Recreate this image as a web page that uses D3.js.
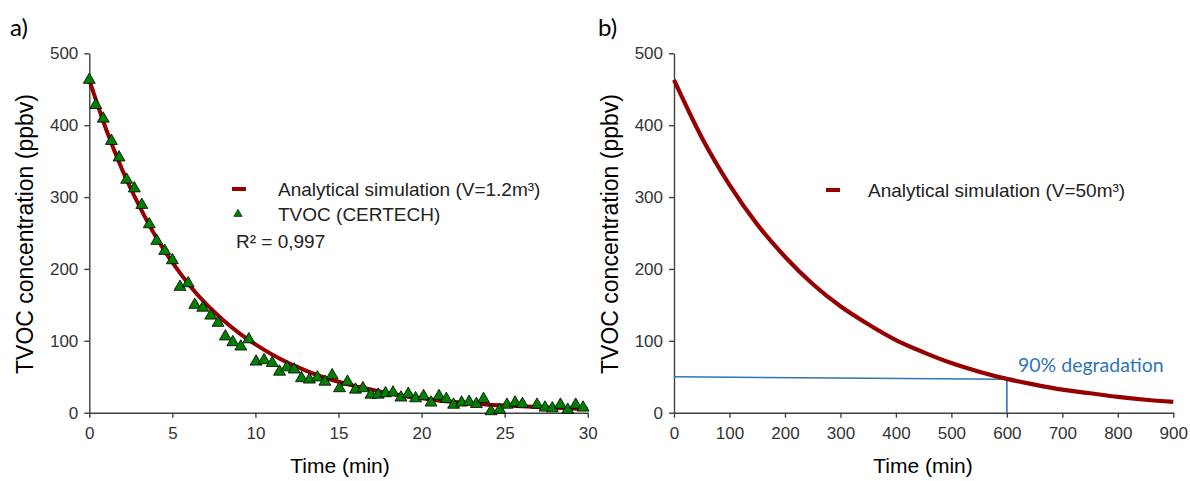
<!DOCTYPE html>
<html>
<head>
<meta charset="utf-8">
<script src="https://cdn.jsdelivr.net/npm/d3@7"></script>
<style>
  body { margin: 0; background: #fff; }
  svg { display: block; }
  .tick text { font-family: "Liberation Sans", Arial, sans-serif; fill: #333; }
</style>
</head>
<body>
<svg id="chart" width="1190" height="481"></svg>
<script>
// panel a) measured TVOC
const tvocTime = [0, 0.39, 0.84, 1.33, 1.79, 2.25, 2.71, 3.16, 3.61, 4.06, 4.54, 5.0, 5.46, 5.95, 6.35, 6.83,
  7.31, 7.75, 8.19, 8.64, 9.12, 9.60, 10.04, 10.52, 11.01, 11.45, 11.89, 12.33, 12.77, 13.25, 13.73, 14.18,
  14.62, 15.06, 15.54, 16.02, 16.47, 16.95, 17.39, 17.83, 18.28, 18.76, 19.20, 19.64, 20.12, 20.57, 21.05,
  21.49, 21.93, 22.41, 22.86, 23.30, 23.73, 24.18, 24.70, 25.14, 25.63, 26.07, 26.95, 27.43, 27.87, 28.36,
  28.80, 29.28, 29.72]
const tvocValue = [463, 428, 409, 378, 355, 324, 312, 289, 262, 239, 225, 212, 175, 180, 150, 146,
  135, 125, 106, 98, 92, 102, 71, 73, 69, 57, 63, 60, 48, 46, 49, 43,
  52, 34, 43, 32, 34, 25, 25, 27, 28, 21, 26, 20, 23, 14, 23,
  19, 11, 14, 15, 12, 19, 2, 4, 11, 14, 12, 11, 7, 6, 11,
  4, 11, 7]

// panel a) analytical simulation, V=1.2 m3
const simTimeA = d3.range(0, 31)
const simValueA = [463, 395, 337, 288, 245, 209, 178, 152, 130, 111, 95, 81, 69, 59, 50, 43,
  37, 32, 27, 23, 20, 17, 15, 13, 11, 10, 9, 8, 7, 6, 5]

// panel b) analytical simulation, V=50 m3
const simTimeB = [0, 50, 100, 150, 200, 250, 300, 350, 400, 450, 500, 550, 600, 650, 700, 750, 800, 850, 900]
const simValueB = [463, 383, 317, 262, 217, 179, 148, 123, 101, 84, 69, 57, 47, 39, 32, 27, 22, 18, 15]

// 90% degradation guide
const guideTime = [0, 600, 600]
const guideValue = [50, 46.5, 0]

const xTicksA = [0, 5, 10, 15, 20, 25, 30]
const xTicksB = [0, 100, 200, 300, 400, 500, 600, 700, 800, 900]
const yTicks = [0, 100, 200, 300, 400, 500]

const red = '#960000'
const axisColor = '#404040'
const blue = '#2e75b6'
const sans = '"Liberation Sans", Arial, sans-serif'
const label = 'Lato, "Open Sans", sans-serif'

const svg = d3.select('#chart')

function drawAxes(x, y, xTicks, yAxisX) {
  const gx = svg.append('g')
    .attr('transform', `translate(0, ${y(0)})`)
    .call(d3.axisBottom(x).tickValues(xTicks).tickSize(5).tickSizeOuter(0).tickPadding(9))
  const gy = svg.append('g')
    .attr('transform', `translate(${yAxisX}, 0)`)
    .call(d3.axisLeft(y).tickValues(yTicks).tickSize(5).tickSizeOuter(0).tickPadding(6))
  for (const g of [gx, gy]) {
    g.selectAll('path, line').attr('stroke', axisColor).attr('stroke-width', 1.4)
    g.selectAll('text').style('font-size', '17px')
  }
}

function titles(cx, yTitleX, tag, tagX) {
  svg.append('text')
    .attr('x', cx).attr('y', 473)
    .attr('text-anchor', 'middle')
    .style('font-family', sans).style('font-size', '21px').attr('fill', '#000')
    .text('Time (min)')
  svg.append('text')
    .attr('transform', `translate(${yTitleX}, 234) rotate(-90)`)
    .attr('text-anchor', 'middle')
    .style('font-family', sans).style('font-size', '23px').attr('fill', '#000')
    .text('TVOC concentration (ppbv)')
  svg.append('text')
    .attr('x', tagX).attr('y', 36)
    .style('font-family', label).style('font-size', '24px').attr('fill', '#000')
    .text(tag)
}

const yA = d3.scaleLinear().domain([0, 500]).range([412.7, 53.3])

// ---- panel a
const xA = d3.scaleLinear().domain([0, 30]).range([89.3, 587.7])
drawAxes(xA, yA, xTicksA, 89.3)
titles(340, 33, 'a)', 10)

const lineA = d3.line().x(d => xA(d[0])).y(d => yA(d[1])).curve(d3.curveMonotoneX)
svg.append('path')
  .datum(d3.zip(simTimeA, simValueA))
  .attr('d', lineA)
  .attr('fill', 'none').attr('stroke', red).attr('stroke-width', 4)

const tri = d3.symbol().type(d3.symbolTriangle)
svg.append('g').selectAll('path')
  .data(d3.zip(tvocTime, tvocValue))
  .enter().append('path')
  .attr('transform', d => `translate(${xA(d[0])}, ${yA(d[1])})`)
  .attr('d', tri.size(62)())
  .attr('fill', '#008000').attr('stroke', '#000').attr('stroke-width', 0.8)

// legend a
svg.append('line').attr('x1', 232).attr('x2', 246).attr('y1', 189).attr('y2', 189)
  .attr('stroke', red).attr('stroke-width', 4)
svg.append('path').attr('transform', 'translate(238, 214)')
  .attr('d', d3.symbol().type(d3.symbolTriangle).size(30)())
  .attr('fill', '#008000').attr('stroke', '#000').attr('stroke-width', 0.6)
const legA = [['Analytical simulation (V=1.2m³)', 278, 196], ['TVOC (CERTECH)', 278, 221], ['R² = 0,997', 236, 248]]
svg.append('g').selectAll('text').data(legA).enter().append('text')
  .attr('x', d => d[1]).attr('y', d => d[2])
  .style('font-family', sans).style('font-size', '19px').attr('fill', '#222')
  .text(d => d[0])

// ---- panel b
const xB = d3.scaleLinear().domain([0, 900]).range([674, 1173.3])
drawAxes(xB, yA, xTicksB, 674)
titles(923, 618, 'b)', 598)

svg.append('path')
  .datum(d3.zip(guideTime, guideValue))
  .attr('d', d3.line().x(d => xB(d[0])).y(d => yA(d[1])))
  .attr('fill', 'none').attr('stroke', blue).attr('stroke-width', 1.6)

svg.append('path')
  .datum(d3.zip(simTimeB, simValueB))
  .attr('d', d3.line().x(d => xB(d[0])).y(d => yA(d[1])).curve(d3.curveMonotoneX))
  .attr('fill', 'none').attr('stroke', red).attr('stroke-width', 4.2)

svg.append('text')
  .attr('x', 1018).attr('y', 372)
  .style('font-family', label).style('font-size', '19.5px').attr('fill', blue)
  .text('90% degradation')

svg.append('line').attr('x1', 826).attr('x2', 840).attr('y1', 190).attr('y2', 190)
  .attr('stroke', red).attr('stroke-width', 4)
svg.append('text')
  .attr('x', 868).attr('y', 197)
  .style('font-family', sans).style('font-size', '19px').attr('fill', '#222')
  .text('Analytical simulation (V=50m³)')
</script>
</body>
</html>
